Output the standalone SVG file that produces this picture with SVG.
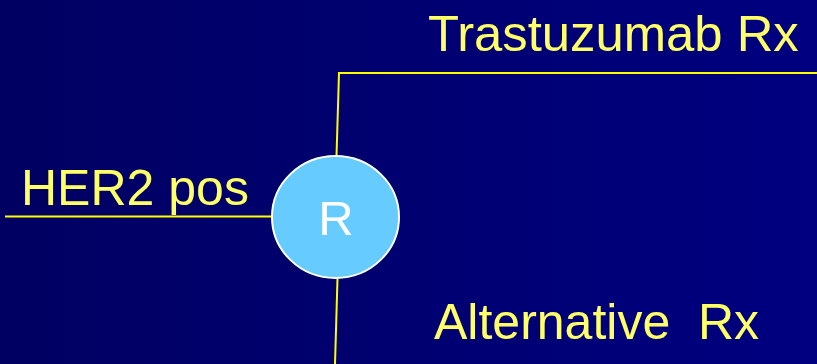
<svg xmlns="http://www.w3.org/2000/svg" width="817" height="364" viewBox="0 0 817 364">
  <defs>
    <linearGradient id="bg" x1="0" y1="0" x2="1" y2="0">
      <stop offset="0" stop-color="#000062"/>
      <stop offset="1" stop-color="#000080"/>
    </linearGradient>
  </defs>
  <style>
    .lbl { font-family: "Liberation Sans", Arial, sans-serif; font-size: 50px; fill: #FFFF66; white-space: pre; }
    .conn { fill: none; stroke: #FFFF00; stroke-width: 2; }
    .node { fill: #66CCFF; stroke: #FFFFFF; stroke-width: 2; }
    .ntext { font-family: "Liberation Sans", Arial, sans-serif; font-size: 49px; fill: #FFFFFF; text-anchor: middle; }
  </style>
  <rect x="0" y="0" width="817" height="364" fill="url(#bg)"/>
  <g id="connectors">
    <path class="conn" d="M5 216.5 H272"/>
    <path class="conn" d="M336.5 156 L339 73 H817"/>
    <path class="conn" d="M337.5 278 L335 364"/>
  </g>
  <g id="node-R">
    <ellipse class="node" cx="335.5" cy="217" rx="63.5" ry="61"/>
    <text class="ntext" x="336" y="235">R</text>
  </g>
  <g id="label-her2">
    <text class="lbl" x="21" y="205">HER2 pos</text>
  </g>
  <g id="label-trastuzumab">
    <text class="lbl" x="428" y="51" style="font-size:50.8px">Trastuzumab Rx</text>
  </g>
  <g id="label-alternative">
    <text class="lbl" x="434" y="339">Alternative  Rx</text>
  </g>
</svg>
